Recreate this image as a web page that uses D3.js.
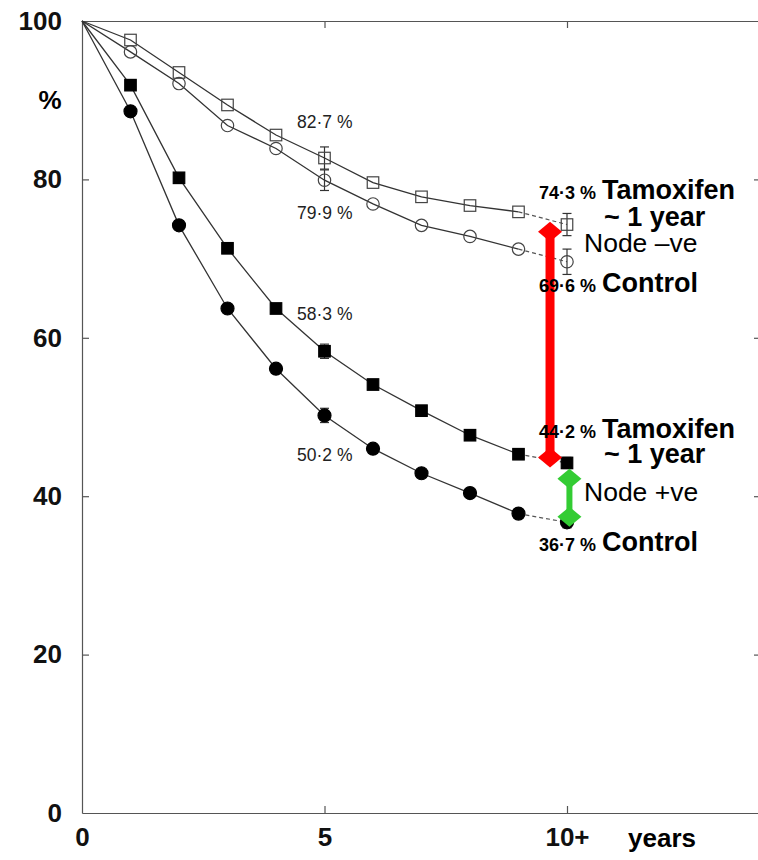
<!DOCTYPE html>
<html>
<head>
<meta charset="utf-8">
<script src="https://cdn.jsdelivr.net/npm/d3@7"></script>
<style>
  body { margin: 0; background: #fff; }
  svg { display: block; font-family: "Liberation Sans", Arial, Helvetica, sans-serif; }
  .axis path, .axis line { stroke: #555; stroke-width: 1.2; }
  .axis text { font-size: 26px; font-weight: bold; fill: #111; font-family: "Liberation Sans", Arial, sans-serif; }
</style>
</head>
<body>
<div id="chart"></div>
<script>
/**
 * Data
 */
const years = [0, 1, 2, 3, 4, 5, 6, 7, 8, 9, 10];
// node negative
const negTamoxifen = [100, 97.6, 93.5, 89.4, 85.6, 82.7, 79.6, 77.8, 76.7, 75.9, 74.3];
const negControl = [100, 96.1, 92.1, 86.8, 83.9, 79.9, 76.9, 74.2, 72.8, 71.2, 69.6];
// node positive
const posTamoxifen = [100, 91.9, 80.2, 71.3, 63.7, 58.3, 54.1, 50.8, 47.7, 45.3, 44.2];
const posControl = [100, 88.6, 74.2, 63.7, 56.1, 50.2, 46.0, 42.9, 40.4, 37.8, 36.7];
// error bars (half width, %) at 5 and 10+ years
const errYears = [5, 10];
const negTamErr = [1.4, 1.4];
const negCtlErr = [1.3, 1.6];
const posTamErr = [0.9, 0.7];
const posCtlErr = [0.9, 0.7];
// axis ticks
const yTicks = [0, 20, 40, 60, 80, 100];
const xTicks = [0, 5, 10];
const xTickLabels = ["0", "5", "10+"];
// benefit arrows
const arrowX = [9.65, 10.05];
const arrowTop = [73.4, 42.2];
const arrowBottom = [44.9, 37.4];

/**
 * Layout
 */
const width = 758, height = 860,
    margin = { top: 21, left: 82, bottom: 47 };

const xScale = d3.scaleLinear().domain([0, 14]).range([margin.left, margin.left + 14 * 48.5]);
const yScale = d3.scaleLinear().domain([0, 100]).range([height - margin.bottom, margin.top]);

const svg = d3.select("#chart").append("svg")
    .attr("width", width)
    .attr("height", height);

// AXES
svg.append("g")
    .attr("class", "axis")
    .attr("transform", `translate(${xScale(0)},0)`)
    .call(d3.axisLeft(yScale).tickValues(yTicks).tickSizeInner(-7).tickSizeOuter(0).tickPadding(20));

svg.append("g")
    .attr("class", "axis")
    .attr("transform", `translate(0,${yScale(0)})`)
    .call(d3.axisBottom(xScale).tickValues(xTicks).tickSizeInner(-7).tickSizeOuter(0).tickPadding(15)
        .tickFormat((d, i) => xTickLabels[i]));

svg.append("g")
    .attr("class", "axis")
    .attr("transform", `translate(0,${yScale(100)})`)
    .call(d3.axisTop(xScale).tickValues([5, 10]).tickSizeInner(-7).tickSizeOuter(0).tickFormat(""));

svg.append("g")
    .attr("class", "axis")
    .attr("transform", `translate(${xScale(14)},0)`)
    .call(d3.axisRight(yScale).tickValues([20, 40, 60, 80]).tickSizeInner(-7).tickSizeOuter(0).tickFormat(""));

svg.selectAll(".axis .tick line").filter(d => d === 0 || d === 100).remove();

svg.append("text")
    .attr("x", 50).attr("y", 109)
    .attr("text-anchor", "middle")
    .style("font-size", "26px").style("font-weight", "bold")
    .text("%");

svg.append("text")
    .attr("x", 628).attr("y", yScale(0) + 34)
    .style("font-size", "26px").style("font-weight", "bold")
    .text("years");

// SERIES
const series = [
    { values: negTamoxifen, err: negTamErr, shape: "square", filled: false },
    { values: negControl, err: negCtlErr, shape: "circle", filled: false },
    { values: posTamoxifen, err: posTamErr, shape: "square", filled: true },
    { values: posControl, err: posCtlErr, shape: "circle", filled: true }
];

const line = d3.line()
    .x(d => xScale(d.year))
    .y(d => yScale(d.v));

series.forEach(s => {
    const pts = years.map((year, i) => ({ year, v: s.values[i] }));
    const g = svg.append("g");

    // solid up to year 9, dashed to 10+
    g.append("path")
        .attr("d", line(pts.slice(0, 10)))
        .attr("fill", "none").attr("stroke", "#333").attr("stroke-width", 1.3);
    g.append("path")
        .attr("d", line(pts.slice(9)))
        .attr("fill", "none").attr("stroke", "#555").attr("stroke-width", 1.2)
        .attr("stroke-dasharray", "4,3");

    // error bars
    errYears.forEach((yr, i) => {
        const v = s.values[years.indexOf(yr)], e = s.err[i];
        const x = xScale(yr);
        g.append("line")
            .attr("x1", x).attr("x2", x)
            .attr("y1", yScale(v + e)).attr("y2", yScale(v - e))
            .attr("stroke", "#333").attr("stroke-width", 1.2);
        [v + e, v - e].forEach(c => g.append("line")
            .attr("x1", x - 4.5).attr("x2", x + 4.5)
            .attr("y1", yScale(c)).attr("y2", yScale(c))
            .attr("stroke", "#333").attr("stroke-width", 1.2));
    });

    const marks = pts.slice(1);
    if (s.shape === "square") {
        const sz = 11.5;
        g.selectAll("rect").data(marks).join("rect")
            .attr("x", d => xScale(d.year) - sz / 2)
            .attr("y", d => yScale(d.v) - sz / 2)
            .attr("width", sz).attr("height", sz)
            .attr("fill", s.filled ? "#000" : "none")
            .attr("stroke", s.filled ? "#000" : "#444")
            .attr("stroke-width", 1.2);
    } else {
        g.selectAll("circle").data(marks).join("circle")
            .attr("cx", d => xScale(d.year))
            .attr("cy", d => yScale(d.v))
            .attr("r", s.filled ? 6.5 : 6.2)
            .attr("fill", s.filled ? "#000" : "none")
            .attr("stroke", s.filled ? "#000" : "#444")
            .attr("stroke-width", 1.2);
    }
});

// ARROWS
const arrowColors = ["#ff0000", "#33cc33"], arrowWidths = [9, 6];
arrowX.forEach((ax, i) => {
    const x = xScale(ax), y1 = yScale(arrowTop[i]), y2 = yScale(arrowBottom[i]);
    svg.append("line")
        .attr("x1", x).attr("x2", x).attr("y1", y1).attr("y2", y2)
        .attr("stroke", arrowColors[i]).attr("stroke-width", arrowWidths[i]);
    [y1, y2].forEach(y => svg.append("path")
        .attr("d", `M${x},${y - 10}L${x + 12},${y}L${x},${y + 10}L${x - 12},${y}Z`)
        .attr("fill", arrowColors[i]));
});

// ANNOTATIONS
const fmt = v => d3.format(".1f")(v).replace(".", "·") + " %";
const inPlot = [
    { v: negTamoxifen[5], dy: -30 },
    { v: negControl[5], dy: 39 },
    { v: posTamoxifen[5], dy: -31 },
    { v: posControl[5], dy: 46 }
];
inPlot.forEach(a => svg.append("text")
    .attr("x", xScale(5) - 27.5)
    .attr("y", yScale(a.v) + a.dy)
    .style("font-size", "17.5px").attr("fill", "#222")
    .text(fmt(a.v)));

const groups = [
    { tam: negTamoxifen[10], ctl: negControl[10], node: "Node \u2013ve", base: [199, 226, 252, 292] },
    { tam: posTamoxifen[10], ctl: posControl[10], node: "Node +ve", base: [438, 463, 501, 551] }
];
const xEnd = xScale(10) + 29, xText = xScale(10) + 35;
groups.forEach(gr => {
    const small = (t, y) => svg.append("text").attr("x", xEnd).attr("y", y)
        .attr("text-anchor", "end").style("font-size", "18px").style("font-weight", "bold").text(t);
    const big = (t, y, x, bold) => svg.append("text").attr("x", x).attr("y", y)
        .style("font-size", bold ? "27px" : "26.5px").style("font-weight", bold ? "bold" : "normal").text(t);
    small(fmt(gr.tam), gr.base[0]);
    big("Tamoxifen", gr.base[0], xText, true);
    big("~ 1 year", gr.base[1], xText + 2, true);
    big(gr.node, gr.base[2], xText - 18, false);
    small(fmt(gr.ctl), gr.base[3]);
    big("Control", gr.base[3], xText, true);
});
</script>
</body>
</html>
